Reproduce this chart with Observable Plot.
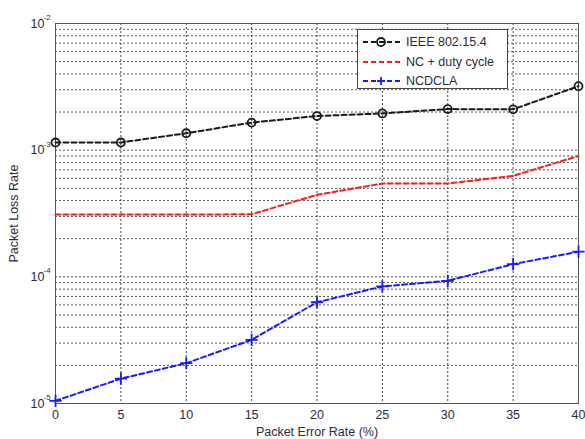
<!DOCTYPE html>
<html>
<head>
<meta charset="utf-8">
<script src="https://cdn.jsdelivr.net/npm/d3@7"></script>
<script src="https://cdn.jsdelivr.net/npm/@observablehq/plot@0.6"></script>
<style>
  html, body { margin: 0; padding: 0; background: #fff; }
  #wrap { position: relative; width: 585px; height: 439px; font-family: "Liberation Sans", Arial, sans-serif; }
  #legend { position: absolute; left: 357px; top: 29px; width: 151px; height: 60px; background: #fff; border: 1px solid #444; box-sizing: border-box; }
  .row { position: absolute; left: 0; height: 20px; display: flex; align-items: center; font-size: 12.5px; color: #2b2b3a; }
  .row svg { margin-left: 5px; margin-right: 6px; }
</style>
</head>
<body>
<div id="wrap"></div>
<script>
const xValues = [0, 5, 10, 15, 20, 25, 30, 35, 40];
const ieee = [1.15e-3, 1.15e-3, 1.36e-3, 1.65e-3, 1.86e-3, 1.95e-3, 2.11e-3, 2.1e-3, 3.2e-3];
const ncDuty = [3.1e-4, 3.1e-4, 3.1e-4, 3.12e-4, 4.44e-4, 5.45e-4, 5.45e-4, 6.27e-4, 9.0e-4];
const ncdcla = [1.05e-5, 1.57e-5, 2.08e-5, 3.18e-5, 6.3e-5, 8.4e-5, 9.3e-5, 1.26e-4, 1.58e-4];
const seriesNames = ["IEEE 802.15.4", "NC + duty cycle", "NCDCLA"];
const seriesColors = ["#1a1a1a", "#ff1a1a", "#1a1aff"];
const yTicks = [1e-5, 1e-4, 1e-3, 1e-2];
const yExponents = ["-5", "-4", "-3", "-2"];

const data = [];
[ieee, ncDuty, ncdcla].forEach((vals, s) => {
  vals.forEach((v, i) => data.push({series: seriesNames[s], x: xValues[i], y: v}));
});

const minorY = [];
for (let d = -5; d < -2; d++) for (let k = 1; k <= 9; k++) minorY.push(k * Math.pow(10, d));
minorY.push(1e-2);

const plot = Plot.plot({
  width: 585,
  height: 439,
  marginLeft: 55,
  marginRight: 7,
  marginTop: 23,
  marginBottom: 36,
  style: {fontFamily: "Liberation Sans, Arial, sans-serif", fontSize: "12.5px", color: "#2b2b3a", background: "#fff"},
  x: {domain: [0, 40]},
  y: {type: "log", domain: [1e-5, 1e-2]},
  color: {domain: seriesNames, range: seriesColors},
  marks: [
    Plot.ruleY(minorY, {stroke: "#555", strokeDasharray: "2,2", strokeWidth: 1}),
    Plot.ruleX(xValues, {stroke: "#444", strokeDasharray: "2,2", strokeWidth: 1}),
    Plot.frame({stroke: "#555", strokeWidth: 1}),
    Plot.axisX({ticks: xValues, tickSize: 0, tickPadding: 7, label: "Packet Error Rate (%)", labelAnchor: "center", labelArrow: "none", labelOffset: 32, fontSize: 12.5}),
    Plot.axisY({ticks: yTicks, tickSize: 0, tickPadding: 11, tickFormat: () => "10", label: "Packet Loss Rate", labelAnchor: "center", labelArrow: "none", labelOffset: 46, fontSize: 12.5}),
    Plot.text(yTicks, {y: d => d, frameAnchor: "left", text: (d, i) => yExponents[i], textAnchor: "start", dx: -12, dy: -6, fontSize: 8, fill: "#2b2b3a"}),
    Plot.line(data, {x: "x", y: "y", stroke: "series", strokeWidth: 2, strokeDasharray: "5,3"}),
    Plot.dot(data.filter(d => d.series === seriesNames[0]), {x: "x", y: "y", r: 4, stroke: "#1a1a1a", strokeWidth: 1.8, fill: "#fff", fillOpacity: 0}),
    Plot.dot(data.filter(d => d.series === seriesNames[2]), {x: "x", y: "y", r: 4, symbol: "plus", stroke: "#1a1aff", strokeWidth: 1.8})
  ]
});

const wrap = document.getElementById("wrap");
wrap.appendChild(plot);

const legend = document.createElement("div");
legend.id = "legend";
const sym = ["circle", "none", "plus"];
seriesNames.forEach((name, i) => {
  const row = document.createElement("div");
  row.className = "row";
  row.style.top = (2 + i * 19.5) + "px";
  let marker = "";
  if (sym[i] === "circle") marker = `<circle cx="18" cy="5" r="4" fill="none" stroke="${seriesColors[i]}" stroke-width="1.8"/>`;
  if (sym[i] === "plus") marker = `<path d="M14,5H22M18,1V9" stroke="${seriesColors[i]}" stroke-width="1.8"/>`;
  row.innerHTML = `<svg width="37" height="10"><line x1="0" x2="37" y1="5" y2="5" stroke="${seriesColors[i]}" stroke-width="2" stroke-dasharray="5,3"/>${marker}</svg><span>${name}</span>`;
  legend.appendChild(row);
});
wrap.appendChild(legend);
</script>
</body>
</html>
